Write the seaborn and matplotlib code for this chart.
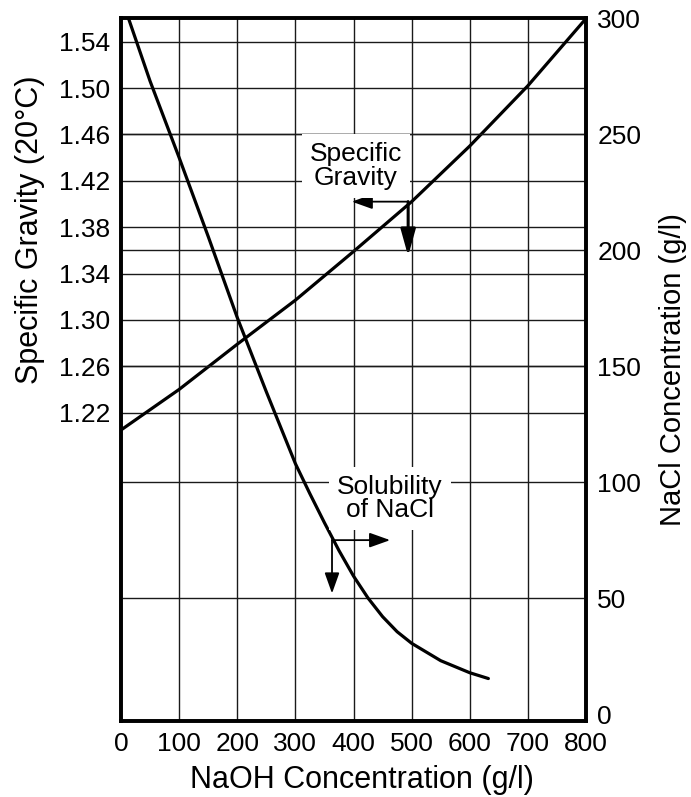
import matplotlib
matplotlib.use("Agg")
import matplotlib.pyplot as plt
import seaborn as sns

# Specific gravity of the caustic liquor (left axis) against NaOH concentration
naoh_sg = [0, 100, 200, 300, 400, 500, 600, 700, 800]
specific_gravity = [1.205, 1.240, 1.279, 1.317, 1.359, 1.402, 1.450, 1.502, 1.560]

# Solubility of NaCl (right axis) against NaOH concentration
naoh_sol = [13, 50, 100, 150, 200, 250, 300, 325, 350, 375, 400, 425, 450,
            475, 500, 550, 600, 632]
nacl_solubility = [300, 273, 240, 206, 171, 139, 108, 95, 82.5, 70.5, 59.5, 50,
                   42, 35.5, 30.5, 23, 17.8, 15.3]

# Tick values
naoh_ticks = [0, 100, 200, 300, 400, 500, 600, 700, 800]
sg_ticks = [1.22, 1.26, 1.30, 1.34, 1.38, 1.42, 1.46, 1.50, 1.54]
nacl_ticks = [0, 50, 100, 150, 200, 250, 300]

sns.set_style("white")
plt.rcParams["font.family"] = ["Liberation Sans", "DejaVu Sans"]
plt.rcParams["text.color"] = "black"
plt.rcParams["axes.labelcolor"] = "black"

TICK_FS = 19
NOTE_FS = 19
LABEL_FS = 22
GRID_KW = dict(color="0.1", lw=1.0)

fig = plt.figure(figsize=(6.91, 7.97), dpi=100)
ax = fig.add_axes([0.1751, 0.0954, 0.673, 0.8814])
ax2 = ax.twinx()

# curves
sns.lineplot(x=naoh_sg, y=specific_gravity, ax=ax, color="black", lw=2.3)
sns.lineplot(x=naoh_sol, y=nacl_solubility, ax=ax2, color="black", lw=2.3)

# axes ranges
ax.set_xlim(0, 800)
ax.set_ylim(0.954, 1.560)
ax2.set_ylim(-3, 300)

# ticks
ax.set_xticks(naoh_ticks)
ax.set_xticklabels([str(v) for v in naoh_ticks])
ax.set_yticks(sg_ticks)
ax.set_yticklabels([f"{v:.2f}" for v in sg_ticks])
ax2.set_yticks(nacl_ticks)
ax2.set_yticklabels([str(v) for v in nacl_ticks])
ax.tick_params(axis="x", length=0, pad=8, labelsize=TICK_FS, colors="black")
ax.tick_params(axis="y", length=0, pad=8, labelsize=TICK_FS, colors="black")
ax2.tick_params(axis="y", length=0, pad=8, labelsize=TICK_FS, colors="black")

# grid: vertical NaOH lines, horizontal SG lines, horizontal NaCl lines
ax.grid(False)
ax2.grid(False)
for v in naoh_ticks[1:-1]:
    ax.axvline(v, zorder=0.5, **GRID_KW)
for v in sg_ticks:
    ax.axhline(v, zorder=0.5, **GRID_KW)
for v in nacl_ticks[1:-1]:
    ax2.axhline(v, zorder=0.5, **GRID_KW)

# frame
for a in (ax, ax2):
    for s in a.spines.values():
        s.set_visible(True)
        s.set_color("black")
        s.set_linewidth(2.6)

# axis labels
ax.set_xlabel("NaOH Concentration (g/l)", fontsize=LABEL_FS)
ax.xaxis.set_label_coords(0.519, -0.062)
ax.set_ylabel("Specific Gravity (20°C)", fontsize=LABEL_FS)
ax.yaxis.set_label_coords(-0.163, 0.699)
ax2.set_ylabel("NaCl Concentration (g/l)", fontsize=21)
ax2.yaxis.set_label_coords(1.157, 0.5)

# callouts
box = dict(boxstyle="square,pad=0.3", fc="white", ec="none")
ax2.text(404, 236.5, "Specific\nGravity", fontsize=NOTE_FS, ha="center",
         va="center", linespacing=1.0, bbox=box, zorder=5)
ax2.text(463, 93, "Solubility\nof NaCl", fontsize=NOTE_FS, ha="center",
         va="center", linespacing=0.95, bbox=box, zorder=5)

arrow_thin = dict(arrowstyle="-|>,head_length=0.7,head_width=0.25", color="black",
                  lw=1.3, shrinkA=0, shrinkB=0, mutation_scale=18)
arrow_bold = dict(arrowstyle="-|>,head_length=0.9,head_width=0.25", color="black",
                  lw=2.2, shrinkA=0, shrinkB=0, mutation_scale=18)

# specific gravity: read left and down
ax.annotate("", xy=(397, 1.402), xytext=(494, 1.402), arrowprops=arrow_thin, zorder=6)
ax.annotate("", xy=(494, 1.355), xytext=(494, 1.402), arrowprops=arrow_bold, zorder=6)

# solubility: read right and down
ax2.annotate("", xy=(463, 75), xytext=(363, 75), arrowprops=arrow_thin, zorder=6)
ax2.annotate("", xy=(363, 52), xytext=(363, 75), arrowprops=arrow_thin, zorder=6)

fig.savefig("out.png", dpi=100)
